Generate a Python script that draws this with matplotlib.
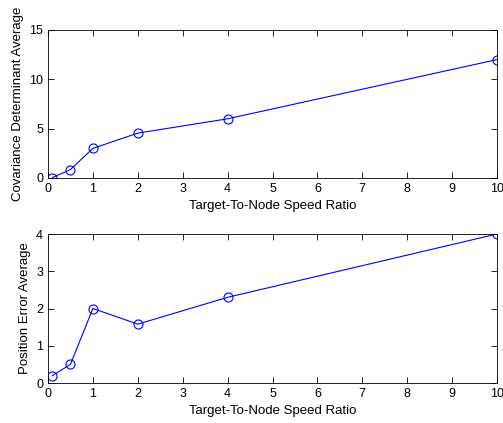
import matplotlib
matplotlib.use('Agg')
import matplotlib.pyplot as plt

ratio = [0.1, 0.5, 1, 2, 4, 10]
cov_det = [0.05, 0.85, 3.0, 4.55, 6.0, 12.0]
pos_err = [0.2, 0.5, 2.0, 1.58, 2.3, 4.0]

plt.rcParams['font.family'] = ['Liberation Sans', 'DejaVu Sans']

fig = plt.figure(figsize=(5.03, 4.23), dpi=100)
W, H = 503.0, 423.0

ax1 = fig.add_axes([48 / W, 1 - 178 / H, 449 / W, 148 / H])
ax2 = fig.add_axes([48 / W, 1 - 383 / H, 449 / W, 149 / H])

for ax, y, ylab, yt in [(ax1, cov_det, 'Covariance Determinant Average', [0, 5, 10, 15]),
                        (ax2, pos_err, 'Position Error Average', [0, 1, 2, 3, 4])]:
    ax.plot(ratio, y, color='#0000ff', lw=0.8, marker='o', ms=6.5,
            mfc='none', mec='#0000ff', mew=0.8)
    ax.set_xlim(0, 10)
    ax.set_ylim(yt[0], yt[-1])
    ax.set_xticks(range(11))
    ax.set_yticks(yt)
    ax.tick_params(direction='in', top=True, right=True, length=4, labelsize=9, width=0.6)
    ax.set_xlabel('Target-To-Node Speed Ratio', fontsize=9.5, labelpad=4)
    ax.set_ylabel(ylab, fontsize=9.5, labelpad=4)
    for s in ax.spines.values():
        s.set_linewidth(0.6)

fig.savefig('out.png', dpi=100, facecolor='white')
